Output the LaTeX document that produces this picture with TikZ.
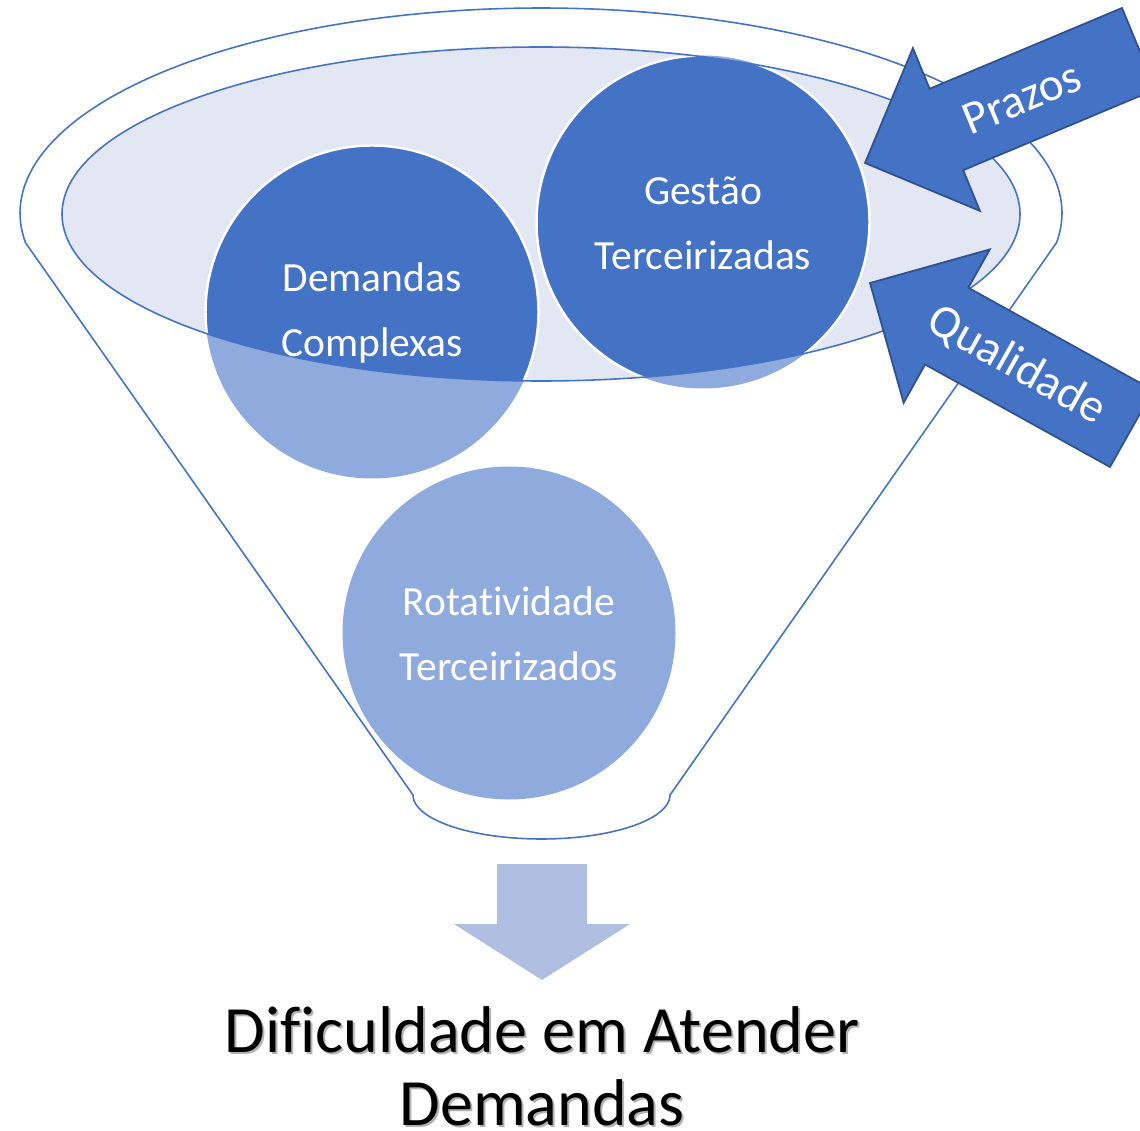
\documentclass[tikz,border=0pt]{standalone}
\usepackage{fontspec}
\setmainfont{Carlito}[Ligatures={NoCommon}]
\definecolor{acc}{HTML}{4472C4}
\definecolor{accl}{HTML}{8FAADC}
\definecolor{accd}{HTML}{2F528F}
\definecolor{ellf}{HTML}{E2E7F3}
\definecolor{downf}{HTML}{B0BFE1}
\begin{document}
\begin{tikzpicture}[x=0.01cm,y=-0.01cm,
  outl/.style={draw=acc, line width=0.45pt},
  circlbl/.style={text=white, align=center, font=\fontsize{11.8}{18.5}\selectfont},
  arrlbl/.style={text=white, font=\fontsize{13.4}{16}\selectfont},
  blockarrow/.style={fill=acc, draw=accd, line width=0.5pt, line join=miter},
  restxt/.style={anchor=base, font=\fontsize{18.8}{20.8}\selectfont},
  shadowtxt/.style={restxt, text=black!30}]
\useasboundingbox (0,0) rectangle (1140,1131);
\clip (0,0) rectangle (1140,1131);
% funnel outline
\draw[outl, fill=white] (25.7,243) -- (413,795)
  -- plot[domain=180:0, samples=60, variable=\t] ({541.5+128.5*cos(\t)},{795+44*sin(\t)})
  -- (1056.3,243)
  -- plot[domain=-8.4:188.4, samples=140, variable=\t] ({541+521*cos(\t)},{213-205*sin(\t)}) -- cycle;
% inner ellipse
\fill[ellf] (541,214) ellipse [x radius=479, y radius=167];
% circles (light part)
\fill[accl] (372,312) circle [radius=166.5];
\fill[accl] (703,222) circle [radius=166.5];
\fill[accl] (509,633) circle [radius=166.5];
% circles (part inside the ellipse)
\begin{scope}
  \clip (541,214) ellipse [x radius=479, y radius=167];
  \filldraw[fill=acc, draw=white, line width=0.7pt] (372,312) circle [radius=166.5];
  \filldraw[fill=acc, draw=white, line width=0.7pt] (703,222) circle [radius=166.5];
\end{scope}
\draw[outl] (541,214) ellipse [x radius=479, y radius=167];
% circle labels
\node[circlbl] (dc) at (372,313) {Demandas\\Complexas};
\node[circlbl] (gt) at (703,223) {Gestão\\Terceirizadas};
\node[circlbl] (rt) at (509,634) {Rotatividade\\Terceirizados};
% block arrows
\draw[blockarrow] (865,163) -- (912.9,48.1) -- (929.6,88.8) -- (1122,8) -- (1155.6,89.4) -- (963.2,170.2) -- (979.9,210.9) -- cycle;
\node[arrlbl, rotate=22.4] (pz) at (1022,98) {Prazos};
\draw[blockarrow] (870,283) -- (989.8,249.4) -- (968.3,287.7) -- (1153.2,390.2) -- (1110,467) -- (925.1,364.5) -- (903.6,402.8) -- cycle;
\node[arrlbl, rotate=-29.3] (ql) at (1016.5,365.3) {Qualidade};
% down arrow
\fill[downf] (497,864) -- (587,864) -- (587,924) -- (630,924) -- (542,980) -- (454,924) -- (497,924) -- cycle;
% result text
\node[shadowtxt] (r1s) at (544,1054) {Dificuldade em Atender};
\node[shadowtxt] (r2s) at (544,1127) {Demandas};
\node[restxt] (r1) at (542,1052) {Dificuldade em Atender};
\node[restxt] (r2) at (542,1125) {Demandas};
\end{tikzpicture}
\end{document}
